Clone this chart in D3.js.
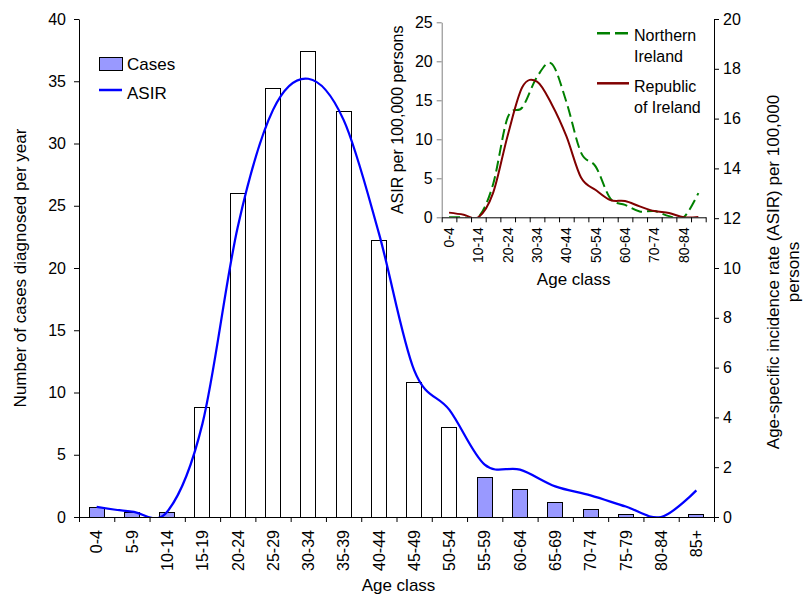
<!DOCTYPE html>
<html><head><meta charset="utf-8">
<script src="https://cdn.jsdelivr.net/npm/d3@7"></script>
<style>
body{margin:0;background:#fff}
svg text{font-family:"Liberation Sans",Arial,sans-serif;fill:#000}
</style>
</head><body>
<svg id="chart" width="803" height="596"></svg>
<script>
// ---------------- data ----------------
const ageClasses = ["0-4","5-9","10-14","15-19","20-24","25-29","30-34","35-39","40-44","45-49","50-54","55-59","60-64","65-69","70-74","75-79","80-84","85+"];
const casesPerYear = [0.8,0.4,0.4,8.8,26.0,34.4,37.4,32.6,22.2,10.8,7.2,3.2,2.2,1.2,0.6,0.2,0,0.2];
const asirAll = [0.41,0.22,0.21,3.75,11.65,16.35,17.6,15.95,11.4,5.9,4.3,2.1,1.9,1.23,0.87,0.42,0,1.07];
const asirNorthernIreland = [0,0,0,4.2,12.8,14.1,18.0,19.7,14.8,8.3,6.5,2.4,1.6,0.75,0.8,0.15,0,3.1];
const asirRepublicOfIreland = [0.6,0.34,0,3.1,10.5,16.7,17.4,14.5,10.4,5.1,3.5,2.2,2.08,1.4,0.8,0.55,0,0.05];
const leftTicks = [0,5,10,15,20,25,30,35,40];
const rightTicks = [0,2,4,6,8,10,12,14,16,18,20];
const insetYTicks = [0,5,10,15,20,25];

// ---------------- layout ----------------
const svg = d3.select("#chart");
const M = {left:79, right:714, top:19, bottom:517};
const x = d3.scaleBand().domain(ageClasses).range([M.left, M.right]);
const xIdx = d3.scaleLinear().domain([0, ageClasses.length]).range([M.left, M.right]);
const yL = d3.scaleLinear().domain([0,40]).range([M.bottom, M.top]);
const yR = d3.scaleLinear().domain([0,20]).range([M.bottom, M.top]);

const defs = svg.append("defs");
defs.append("clipPath").attr("id","mainClip").append("rect")
  .attr("x",M.left).attr("y",M.top).attr("width",M.right-M.left).attr("height",M.bottom-M.top);

// bars
const bw = x.bandwidth()*0.425;
svg.append("g").selectAll("rect").data(casesPerYear).join("rect")
  .attr("x",(d,i)=>x(ageClasses[i])+x.bandwidth()/2-bw/2)
  .attr("y",d=>yL(d))
  .attr("width",bw)
  .attr("height",d=>yL(0)-yL(d))
  .attr("fill",(d,i)=>(i>=3 && i<=10) ? "#ffffff" : "#9999ff")
  .attr("stroke","#000").attr("stroke-width",1)
  .attr("shape-rendering","crispEdges");

// ASIR line
const line = d3.line().curve(d3.curveCardinal.tension(0))
  .x((d,i)=>x(ageClasses[i])+x.bandwidth()/2);
svg.append("path").datum(asirAll)
  .attr("clip-path","url(#mainClip)")
  .attr("d", line.y(d=>yR(d)))
  .attr("fill","none").attr("stroke","#0000ff").attr("stroke-width",2.25);

// axes
function styleAxis(g, color){
  g.selectAll("path.domain").attr("stroke",color).attr("stroke-width",1);
  g.selectAll(".tick line").attr("stroke",color).attr("stroke-width",1);
  g.selectAll("text").style("font-family",'"Liberation Sans",Arial,sans-serif').attr("fill","#000");
}
const gL = svg.append("g").attr("transform",`translate(${M.left},0)`)
  .call(d3.axisLeft(yL).tickValues(leftTicks).tickSize(5).tickSizeOuter(0).tickPadding(8));
styleAxis(gL,"#000"); gL.selectAll("text").style("font-size","16px");

const gR = svg.append("g").attr("transform",`translate(${M.right},0)`)
  .call(d3.axisRight(yR).tickValues(rightTicks).tickSize(5).tickSizeOuter(0).tickPadding(4));
styleAxis(gR,"#000"); gR.selectAll("text").style("font-size","16px");

const gXt = svg.append("g").attr("transform",`translate(0,${M.bottom})`)
  .call(d3.axisBottom(xIdx).tickValues(d3.range(ageClasses.length+1)).tickFormat("").tickSize(5).tickSizeOuter(0));
styleAxis(gXt,"#000");

const gX = svg.append("g").attr("transform",`translate(0,${M.bottom})`)
  .call(d3.axisBottom(x).tickSize(0).tickSizeOuter(0));
gX.select("path.domain").remove();
gX.selectAll("text").style("font-size","16px")
  .attr("transform","rotate(-90)").attr("text-anchor","end")
  .attr("x",-13).attr("y",0).attr("dy","0.36em");

// titles
svg.append("text").attr("x",(M.left+M.right)/2+2).attr("y",591).attr("text-anchor","middle")
  .style("font-size","17px").text("Age class");
svg.append("text").attr("transform",`translate(26,${(M.top+M.bottom)/2}) rotate(-90)`)
  .attr("text-anchor","middle").style("font-size","17px").text("Number of cases diagnosed per year");
const rt = svg.append("text").attr("transform",`translate(779,${(M.top+M.bottom)/2+4}) rotate(-90)`)
  .attr("text-anchor","middle").style("font-size","17px");
rt.append("tspan").attr("x",0).attr("dy",0).text("Age-specific incidence rate (ASIR) per 100,000");
rt.append("tspan").attr("x",0).attr("dy","1.15em").text("persons");

// main legend
svg.append("rect").attr("x",99).attr("y",57).attr("width",23).attr("height",13)
  .attr("fill","#9999ff").attr("stroke","#000").attr("shape-rendering","crispEdges");
svg.append("text").attr("x",127).attr("y",69.5).style("font-size","17px").text("Cases");
svg.append("line").attr("x1",99).attr("x2",122).attr("y1",90).attr("y2",90)
  .attr("stroke","#0000ff").attr("stroke-width",2.5);
svg.append("text").attr("x",127).attr("y",98.5).style("font-size","17px").text("ASIR");

// ---------------- inset ----------------
const I = {left:441.7, right:705.7, top:22.3, bottom:217.3};
const xi = d3.scaleBand().domain(ageClasses).range([I.left, I.right]);
const xiIdx = d3.scaleLinear().domain([0, ageClasses.length]).range([I.left, I.right]);
const yi = d3.scaleLinear().domain([0,25]).range([I.bottom, I.top]);
defs.append("clipPath").attr("id","insetClip").append("rect")
  .attr("x",I.left).attr("y",I.top-5).attr("width",I.right-I.left).attr("height",I.bottom-I.top+5);

const lineI = d3.line().curve(d3.curveCardinal.tension(0))
  .x((d,i)=>xi(ageClasses[i])+xi.bandwidth()/2).y(d=>yi(d));
svg.append("path").datum(asirNorthernIreland).attr("clip-path","url(#insetClip)")
  .attr("d",lineI).attr("fill","none").attr("stroke","#008000").attr("stroke-width",2)
  .attr("stroke-dasharray","11,5");
svg.append("path").datum(asirRepublicOfIreland).attr("clip-path","url(#insetClip)")
  .attr("d",lineI).attr("fill","none").attr("stroke","#800000").attr("stroke-width",2);

const giY = svg.append("g").attr("transform",`translate(${I.left},0)`)
  .call(d3.axisLeft(yi).tickValues(insetYTicks).tickSize(5).tickSizeOuter(0).tickPadding(4));
styleAxis(giY,"#808080"); giY.selectAll("text").style("font-size","16px");

const giXt = svg.append("g").attr("transform",`translate(0,${I.bottom})`)
  .call(d3.axisBottom(xiIdx).tickValues(d3.range(ageClasses.length+1)).tickFormat("").tickSize(5).tickSizeOuter(0));
styleAxis(giXt,"#000");
const giX = svg.append("g").attr("transform",`translate(0,${I.bottom})`)
  .call(d3.axisBottom(xi).tickSize(0).tickSizeOuter(0).tickFormat((d,i)=> i%2===0 ? d : ""));
giX.select("path.domain").remove();
giX.selectAll("text").style("font-size","14px")
  .attr("transform","rotate(-90)").attr("text-anchor","end")
  .attr("x",-10).attr("y",0).attr("dy","0.36em");

svg.append("text").attr("x",(I.left+I.right)/2).attr("y",285).attr("text-anchor","middle")
  .style("font-size","17px").text("Age class");
svg.append("text").attr("transform",`translate(403,${(I.top+I.bottom)/2}) rotate(-90)`)
  .attr("text-anchor","middle").style("font-size","16px").text("ASIR per 100,000 persons");

// inset legend
svg.append("line").attr("x1",597).attr("x2",629).attr("y1",33.3).attr("y2",33.3)
  .attr("stroke","#008000").attr("stroke-width",2.5).attr("stroke-dasharray","13,5");
svg.append("text").attr("x",634).attr("y",40.5).style("font-size","16px").text("Northern");
svg.append("text").attr("x",634).attr("y",61.5).style("font-size","16px").text("Ireland");
svg.append("line").attr("x1",597).attr("x2",629).attr("y1",83.3).attr("y2",83.3)
  .attr("stroke","#800000").attr("stroke-width",2.5);
svg.append("text").attr("x",634).attr("y",92).style("font-size","16px").text("Republic");
svg.append("text").attr("x",634).attr("y",112.5).style("font-size","16px").text("of Ireland");
</script>
</body></html>
